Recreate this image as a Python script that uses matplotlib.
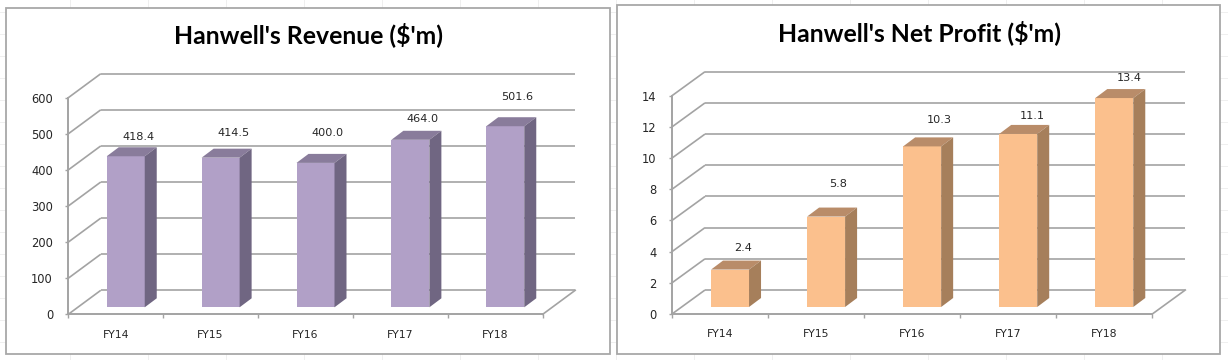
import matplotlib
matplotlib.use("Agg")
import matplotlib.pyplot as plt
from matplotlib.patches import Polygon, Rectangle

categories = ["FY14", "FY15", "FY16", "FY17", "FY18"]
revenue = [418.4, 414.5, 400.0, 464.0, 501.6]
net_profit = [2.4, 5.8, 10.3, 11.1, 13.4]
revenue_ticks = [0, 100, 200, 300, 400, 500, 600]
profit_ticks = [0, 2, 4, 6, 8, 10, 12, 14]
revenue_title = "Hanwell's Revenue ($'m)"
profit_title = "Hanwell's Net Profit ($'m)"

W, H = 1228, 360
GRID = "#A3A3A3"
TEXT = "#262626"

fig = plt.figure(figsize=(W / 100, H / 100), dpi=100, facecolor="white")

# sheet background and the two chart frames, in pixel coordinates
bg = fig.add_axes([0, 0, 1, 1], zorder=0)
bg.set_xlim(0, W)
bg.set_ylim(H, 0)
bg.axis("off")
for gx in range(70, W, 78):
    bg.axvline(gx, color="#EFEFEF", lw=0.7, zorder=1)
for gy in range(12, H, 22):
    bg.axhline(gy, color="#EFEFEF", lw=0.7, zorder=1)
for (l, t, r, b) in [(6, 8, 610, 354), (616.5, 4.5, 1220, 354)]:
    bg.add_patch(Rectangle((l, t), r - l, b - t, facecolor="white",
                           edgecolor="#A8A8A8", lw=1.3, zorder=3))


def chart(values, ticks, title, title_xy, box, depth, colors, label_off, tick_fs=8.3):
    x0, xend, y0, ytop = box
    ax = fig.add_axes([x0 / W, (H - y0) / H, (xend - x0) / W, (y0 - ytop) / H],
                      zorder=2)
    ax.patch.set_alpha(0)
    n = len(values)
    ax.set_xlim(0, n)
    ax.set_ylim(ticks[0], ticks[-1])
    sx = (xend - x0) / n          # pixels per category
    sy = (y0 - ytop) / ticks[-1]  # pixels per value unit
    dx, dy = depth[0] / sx, depth[1] / sy

    # walls and floor
    for t in ticks:
        ax.plot([0, dx], [t, t + dy], color=GRID, lw=1.2, clip_on=False, zorder=1,
                solid_capstyle="butt")
        ax.plot([dx, n + dx], [t + dy, t + dy], color=GRID, lw=1.2, clip_on=False,
                zorder=1, solid_capstyle="butt")
    ax.plot([n, n + dx], [0, dy], color=GRID, lw=1.2, clip_on=False, zorder=1)

    # axes
    for s in ("top", "right"):
        ax.spines[s].set_visible(False)
    for s in ("left", "bottom"):
        ax.spines[s].set_color(GRID)
        ax.spines[s].set_linewidth(1.4)
        ax.spines[s].set_zorder(2)
    ax.set_yticks(ticks)
    ax.set_xticks(range(n + 1))
    ax.set_xticklabels([])
    ax.set_xticks([i + 0.5 for i in range(n)], categories, minor=True)
    ax.tick_params(axis="y", length=2, width=1, color=GRID, pad=9,
                   labelsize=tick_fs, labelcolor=TEXT)
    ax.tick_params(axis="x", which="major", length=3.2, width=1, color=GRID)
    ax.tick_params(axis="x", which="minor", length=0, pad=11, labelsize=7.8,
                   labelcolor=TEXT)
    for lab in ax.get_xticklabels(minor=True) + ax.get_yticklabels():
        lab.set_family(["DejaVu Sans"])

    # 3-D bars: the face sits slightly in front of the back wall
    fx, fy = 10 / sx, 7 / sy
    bw = 38 / sx
    bdx, bdy = 12 / sx, 9 / sy
    xs = [i + 0.5 + fx for i in range(n)]
    ax.bar(xs, values, width=bw, bottom=fy, color=colors[0], linewidth=0,
           clip_on=False, zorder=4)
    for xc, v in zip(xs, values):
        xl, xr, yt, yb = xc - bw / 2, xc + bw / 2, v + fy, fy
        ax.add_patch(Polygon([(xl, yt), (xr, yt), (xr + bdx, yt + bdy), (xl + bdx, yt + bdy)],
                             closed=True, facecolor=colors[1], lw=0, clip_on=False, zorder=4))
        ax.add_patch(Polygon([(xr, yb), (xr + bdx, yb + bdy), (xr + bdx, yt + bdy), (xr, yt)],
                             closed=True, facecolor=colors[2], lw=0, clip_on=False, zorder=4))

    for xc, v, off in zip(xs, values, label_off):
        ax.annotate(f"{v:.1f}", (xc, v + fy), xytext=(off[0] * 0.72, off[1] * 0.72),
                    textcoords="offset points", ha="center", va="center",
                    fontsize=tick_fs - 0.2, color=TEXT, family=["DejaVu Sans"],
                    zorder=6, annotation_clip=False)

    fig.text(title_xy[0] / W, (H - title_xy[1]) / H, title, ha="center", va="center",
             fontsize=17.8, fontweight="bold", family=["Lato", "DejaVu Sans"],
             color="black", zorder=5)


chart(revenue, revenue_ticks, revenue_title, (308, 35),
      (68.3, 542.7, 314.3, 97.7), (32.5, 24),
      ("#B1A0C7", "#897C9B", "#706682"),
      [(12.5, 19), (13, 25), (12.5, 30), (12.5, 21), (12, 29)])
chart(net_profit, profit_ticks, profit_title, (919, 33),
      (672, 1152.3, 314, 95.7), (33, 24),
      ("#FBC08D", "#B98C69", "#A67F5B"),
      [(13, 21.4), (11.7, 33), (16.6, 26), (14, 18), (15.3, 19.7)])

fig.savefig("out.png", dpi=100)
